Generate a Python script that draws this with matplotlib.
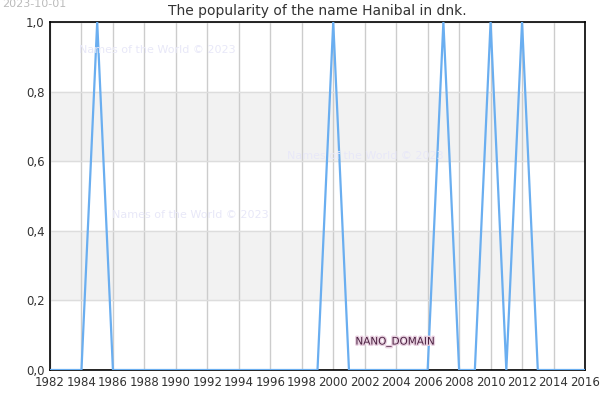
import matplotlib
matplotlib.use("Agg")
import matplotlib.pyplot as plt
import matplotlib.patheffects as pe
from matplotlib.ticker import FuncFormatter

years = list(range(1982, 2017))
spike_years = [1985, 2000, 2007, 2010, 2012]
popularity = [1.0 if y in spike_years else 0.0 for y in years]

band_ranges = [(0.2, 0.4), (0.6, 0.8)]
watermark_spots = [(157, 50), (365, 156), (190, 215)]

fig = plt.figure(figsize=(6, 4), dpi=100)
ax = fig.add_axes([50 / 600, 1 - 370 / 400, 535 / 600, 348 / 400])

for lo, hi in band_ranges:
    ax.axhspan(lo, hi, color="#f2f2f2", zorder=0)

ax.plot(years, popularity, color="#6aaef0", lw=1.6, zorder=3)

ax.set_xlim(1982, 2016)
ax.set_ylim(0, 1)
ax.set_xticks(range(1982, 2017, 2))
ax.set_yticks([0, 0.2, 0.4, 0.6, 0.8, 1.0])
ax.yaxis.set_major_formatter(FuncFormatter(lambda v, p: f"{v:.1f}".replace(".", ",")))
ax.grid(axis="x", color="#cccccc", lw=1, zorder=1)
ax.grid(axis="y", color="#dddddd", lw=1, zorder=1)
ax.tick_params(length=0, labelsize=8.5, colors="#333333", pad=4)
for s in ax.spines.values():
    s.set_color("black")
    s.set_linewidth(1.2)

ax.set_title("The popularity of the name Hanibal in dnk.", fontsize=10, color="#333333", pad=5)
fig.text(2 / 600, 1 - 4 / 400, "2023-10-01", fontsize=8, color="#bbbbbb", va="center", ha="left")

for x, y in watermark_spots:
    fig.text(x / 600, 1 - y / 400, "Names of the World © 2023", fontsize=8,
             color="#e8e8f8", ha="center", va="center", zorder=5)

fig.text(395 / 600, 1 - 342 / 400, "NANO_DOMAIN", fontsize=7.5, color="#4a2040",
         ha="center", va="center", zorder=6,
         path_effects=[pe.withStroke(linewidth=2, foreground="#e8d0e0")])

fig.savefig("out.png", dpi=100)
